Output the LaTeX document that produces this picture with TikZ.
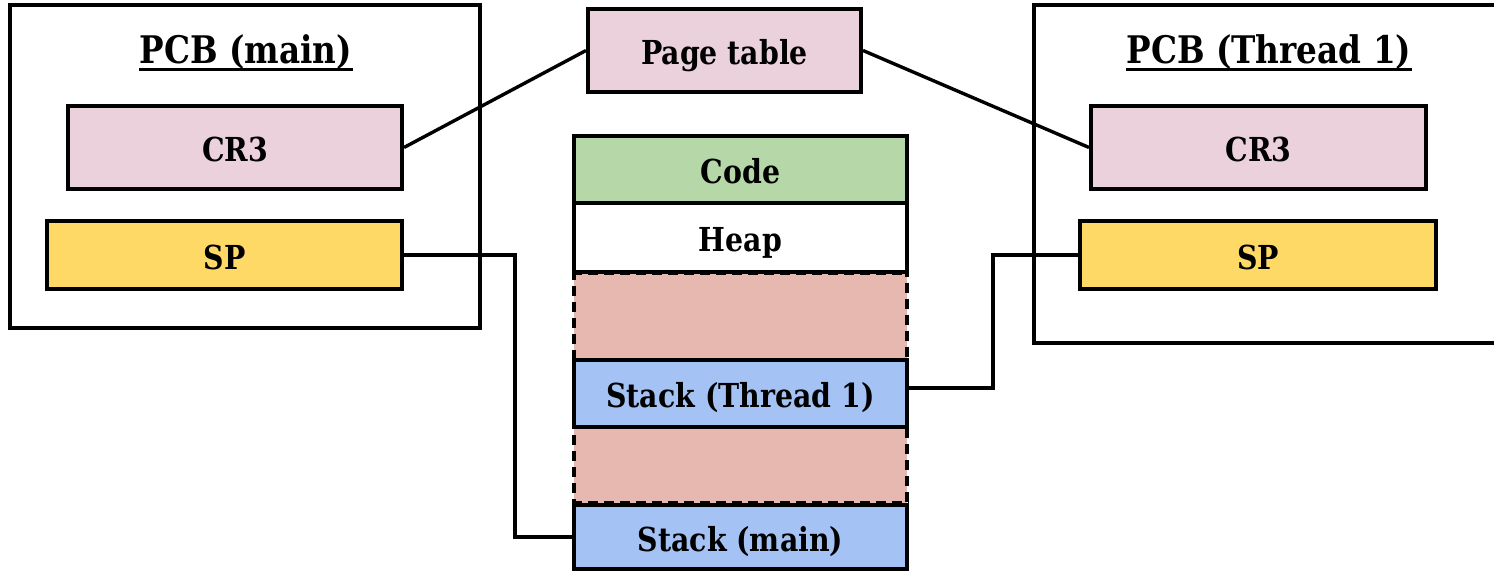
\documentclass[tikz,border=0pt]{standalone}
\usepackage{fontspec}
\setmainfont{DejaVu Serif}[FakeStretch=0.86]
\definecolor{pinkc}{HTML}{EAD1DC}
\definecolor{yellowc}{HTML}{FFD966}
\definecolor{greenc}{HTML}{B6D7A8}
\definecolor{redc}{HTML}{E6B8AF}
\definecolor{bluec}{HTML}{A4C2F4}
\tikzset{
  box/.style={draw=black, line width=2pt, inner sep=0pt, text height=14.5pt, text depth=0pt, font=\bfseries\fontsize{16.5}{20}\selectfont, text=black},
  gap/.style={draw=black, line width=2pt, dash pattern=on 5pt off 3pt, fill=redc, inner sep=0pt},
  frame/.style={draw=black, line width=1.8pt},
  title/.style={inner sep=0pt, font=\bfseries\fontsize{19}{24}\selectfont, anchor=base},
  conn/.style={draw=black, line width=1.7pt},
}
\begin{document}
\begin{tikzpicture}[x=0.5pt,y=-0.5pt]
\useasboundingbox (0,0) rectangle (1494,572);
\clip (0,0) rectangle (1494,572);
% left PCB
\draw[frame] (10,5) rectangle (480,328);
\node[title] (t1) at (246,64) {PCB (main)};
\draw[line width=1.6pt] ([yshift=-2.7pt]t1.base west) -- ([yshift=-2.7pt]t1.base east);
\node[box, fill=pinkc, minimum width=167pt, minimum height=41.5pt] (cr3l) at (235,147.5) {CR3};
\node[box, fill=yellowc, minimum width=177.5pt, minimum height=34pt] (spl) at (224.5,255) {SP};
% right PCB
\draw[frame] (1034,5) rectangle (1520,343);
\node[title] (t2) at (1269,64) {PCB (Thread 1)};
\draw[line width=1.6pt] ([yshift=-2.7pt]t2.base west) -- ([yshift=-2.7pt]t2.base east);
\node[box, fill=pinkc, minimum width=167.5pt, minimum height=41.5pt] (cr3r) at (1258.5,147.5) {CR3};
\node[box, fill=yellowc, minimum width=178pt, minimum height=34pt] (spr) at (1258,255) {SP};
% page table
\node[box, fill=pinkc, minimum width=136.5pt, minimum height=41.5pt] (pt) at (724.5,50.5) {Page table};
% memory column
\node[gap, minimum width=166.5pt, minimum height=44pt] (g1) at (740.5,316) {};
\node[gap, minimum width=166.5pt, minimum height=39pt] (g2) at (740.5,466) {};
\node[box, fill=greenc, minimum width=166.5pt, minimum height=33.5pt] (code) at (740.5,169.5) {Code};
\node[box, fill=white, minimum width=166.5pt, minimum height=34.5pt] (heap) at (740.5,237.5) {Heap};
\node[box, fill=bluec, minimum width=166.5pt, minimum height=33.5pt] (st1) at (740.5,393.5) {Stack (Thread 1)};
\node[box, fill=bluec, minimum width=166.5pt, minimum height=32pt] (stm) at (740.5,537) {Stack (main)};
\draw[line width=2pt, dash pattern=on 5pt off 3pt] ([yshift=-1.5pt]g1.north west) -- ([yshift=-1.5pt]g1.north east);
\draw[line width=2pt, dash pattern=on 5pt off 3pt] (stm.north west) -- (stm.north east);
% connectors
\draw[conn] (cr3l.east) -- (pt.west);
\draw[conn] (pt.east) -- (cr3r.west);
\coordinate (a1) at (515,255);
\coordinate (a2) at (515,537);
\draw[conn] (spl.east) -- (a1) -- (a2) -- (stm.west);
\coordinate (b1) at (993,388);
\coordinate (b2) at (993,255);
\draw[conn] (st1.east |- b1) -- (b1) -- (b2) -- (spr.west);
\end{tikzpicture}
\end{document}
